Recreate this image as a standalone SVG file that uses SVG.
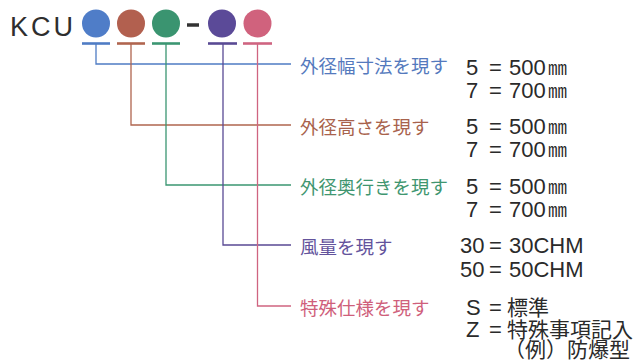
<svg xmlns="http://www.w3.org/2000/svg" width="641" height="362" viewBox="0 0 641 362">
<style>
.ttl{font-family:"Liberation Sans","Noto Sans",sans-serif;font-size:27px;fill:#2e2e2e;letter-spacing:3px}
.lbl{font-family:"Noto Sans CJK JP",sans-serif;font-size:18.5px}
.val{font-family:"Liberation Sans","Noto Sans CJK JP",sans-serif;font-size:22px;fill:#2a2a2a}
.jp{font-family:"Noto Sans CJK JP",sans-serif;font-size:21px}
.mm{font-family:"Noto Sans CJK JP",sans-serif;font-size:19px}
.con{fill:none;stroke-width:1.3}
.ul{stroke-width:2.6}
.blue{stroke:#4f7cc4}.brown{stroke:#b0654f}.green{stroke:#3b9672}.purple{stroke:#594a94}.pink{stroke:#cf6480}
</style>
<rect width="641" height="362" fill="#ffffff"/>
<g id="title">
<text class="ttl" x="10" y="36">KCU</text>
<circle cx="96" cy="23.5" r="14" fill="#4f7dc8"/>
<circle cx="131" cy="23.5" r="14" fill="#b2604f"/>
<circle cx="166" cy="23.5" r="14" fill="#3a9470"/>
<line x1="187" y1="25" x2="199" y2="25" stroke="#333" stroke-width="3.5"/>
<circle cx="222" cy="23.5" r="14" fill="#5b4a98"/>
<circle cx="257.5" cy="23.5" r="14" fill="#d0627d"/>
<line class="ul blue" x1="82" y1="43.5" x2="110" y2="43.5"/>
<line class="ul brown" x1="117" y1="43.5" x2="145" y2="43.5"/>
<line class="ul green" x1="152" y1="43.5" x2="180" y2="43.5"/>
<line class="ul purple" x1="208" y1="43.5" x2="237" y2="43.5"/>
<line class="ul pink" x1="243" y1="43.5" x2="272" y2="43.5"/>
</g>
<g id="connectors">
<polyline class="con blue" points="96,44 96,64 291,64"/>
<polyline class="con brown" points="131,44 131,125 291,125"/>
<polyline class="con green" points="166,44 166,185 291,185"/>
<polyline class="con purple" points="223,44 223,245 291,245"/>
<polyline class="con pink" points="257.5,44 257.5,306 291,306"/>
</g>
<g id="width">
<text class="lbl" x="300" y="73" fill="#5479bd">外径幅寸法を現す</text>
<text class="val" y="75"><tspan x="466">5</tspan><tspan x="489">=</tspan><tspan x="509">500</tspan><tspan class="mm" x="548">㎜</tspan></text>
<text class="val" y="98"><tspan x="466">7</tspan><tspan x="489">=</tspan><tspan x="509">700</tspan><tspan class="mm" x="548">㎜</tspan></text>
</g>
<g id="height">
<text class="lbl" x="300" y="134" fill="#a8624c">外径高さを現す</text>
<text class="val" y="134"><tspan x="466">5</tspan><tspan x="489">=</tspan><tspan x="509">500</tspan><tspan class="mm" x="548">㎜</tspan></text>
<text class="val" y="157"><tspan x="466">7</tspan><tspan x="489">=</tspan><tspan x="509">700</tspan><tspan class="mm" x="548">㎜</tspan></text>
</g>
<g id="depth">
<text class="lbl" x="300" y="194" fill="#3f9670">外径奥行きを現す</text>
<text class="val" y="194"><tspan x="466">5</tspan><tspan x="489">=</tspan><tspan x="509">500</tspan><tspan class="mm" x="548">㎜</tspan></text>
<text class="val" y="217"><tspan x="466">7</tspan><tspan x="489">=</tspan><tspan x="509">700</tspan><tspan class="mm" x="548">㎜</tspan></text>
</g>
<g id="airflow">
<text class="lbl" x="300" y="254" fill="#63539c">風量を現す</text>
<text class="val" y="253"><tspan x="460">30</tspan><tspan x="489">=</tspan><tspan x="509">30CHM</tspan></text>
<text class="val" y="277"><tspan x="460">50</tspan><tspan x="489">=</tspan><tspan x="509">50CHM</tspan></text>
</g>
<g id="special">
<text class="lbl" x="300" y="315" fill="#cf5f7b">特殊仕様を現す</text>
<text class="val" y="315"><tspan x="466">S</tspan><tspan x="489">=</tspan><tspan class="jp" x="507">標準</tspan></text>
<text class="val" y="337"><tspan x="466">Z</tspan><tspan x="489">=</tspan><tspan class="jp" x="507">特殊事項記入</tspan></text>
<text class="jp" x="504" y="357" fill="#2a2a2a">（例）防爆型</text>
</g>
</svg>
